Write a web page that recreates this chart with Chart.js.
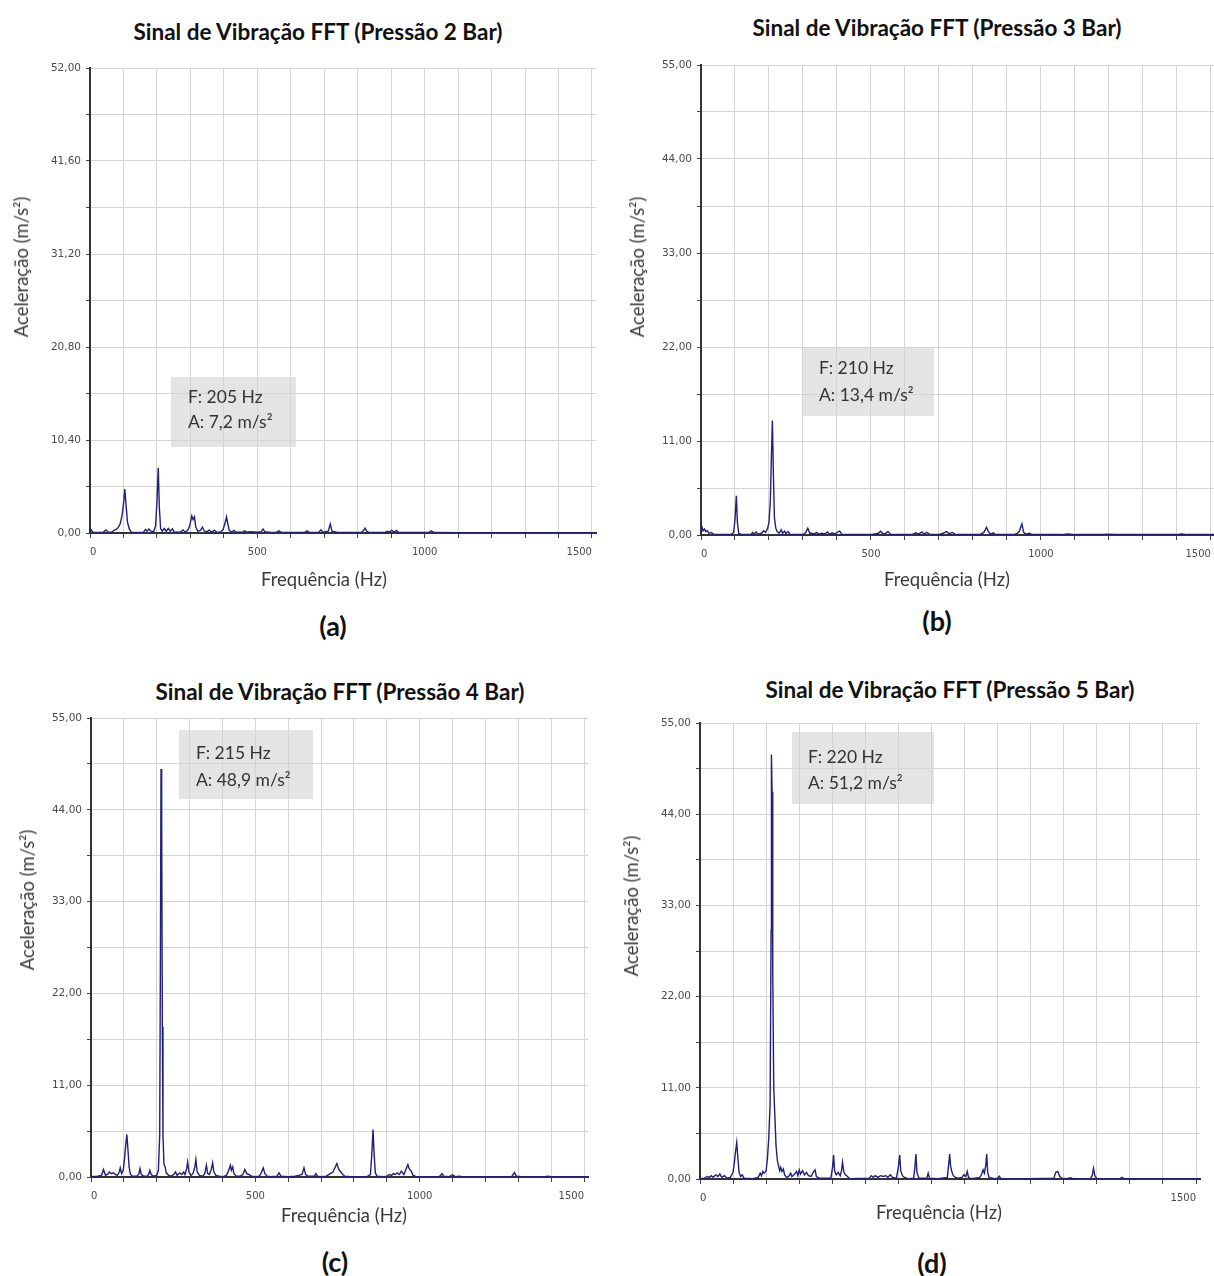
<!DOCTYPE html>
<html>
<head>
<meta charset="utf-8">
<script src="https://cdn.jsdelivr.net/npm/chart.js@4.4.1/dist/chart.umd.min.js"></script>
<style>
  html, body { margin:0; padding:0; background:#fff; overflow:hidden; }
  body { width:1214px; height:1276px; position:relative; }
  canvas { position:absolute; }
  .t { position:absolute; white-space:nowrap; transform:translate(-50%,-50%); }
  .title { font-family:'Lato', sans-serif; font-weight:bold; font-size:22.5px; color:#111; }
  .cap { font-family:'Lato', sans-serif; font-weight:bold; font-size:27px; color:#111; }
  .axt { font-family:'Lato', sans-serif; font-size:18.5px; color:#3a3a3a; }
  .yt { transform:translate(-50%,-50%) rotate(-90deg); }
  .box { position:absolute; background:#e4e4e4; }
  .note { position:absolute; font-family:'Lato', sans-serif; font-size:17.5px; color:#333; white-space:nowrap; transform:translateY(-50%); }
</style>
</head>
<body>
<script>
// ---------- data ----------
const FREQ_TICKS = [0,100,200,300,400,500,600,700,800,900,1000,1100,1200,1300,1400,1500];
const X_LABELS = ['0','','','','','500','','','','','1000','','','','','1500'];
const X_LABELS_D = ['0','','','','','','','','','','','','','','','1500'];
const Y_TICKS_2BAR = [0,5.2,10.4,15.6,20.8,26,31.2,36.4,41.6,46.8,52];
const Y_LABELS_2BAR = ['0,00','','10,40','','20,80','','31,20','','41,60','','52,00'];
const Y_TICKS_55 = [0,5.5,11,16.5,22,27.5,33,38.5,44,49.5,55];
const Y_LABELS_55 = ['0,00','','11,00','','22,00','','33,00','','44,00','','55,00'];

const TITLES = ['Sinal de Vibração FFT (Pressão 2 Bar)','Sinal de Vibração FFT (Pressão 3 Bar)','Sinal de Vibração FFT (Pressão 4 Bar)','Sinal de Vibração FFT (Pressão 5 Bar)'];
const CAPTIONS = ['(a)','(b)','(c)','(d)'];
const NOTE_F = ['F: 205 Hz','F: 210 Hz','F: 215 Hz','F: 220 Hz'];
const NOTE_A = ['A: 7,2 m/s²','A: 13,4 m/s²','A: 48,9 m/s²',' A: 51,2 m/s²'];
const X_TITLE = 'Frequência (Hz)';
const Y_TITLE = 'Aceleração (m/s²)';

// [frequency Hz, acceleration m/s²]
const series2Bar = [[0,0.1],[4,0.35],[8,0.1],[20,0.05],[40,0.1],[48,0.35],[54,0.1],[66,0.1],[72,0.3],[78,0.4],[84,0.6],[90,1.0],[96,2.0],[100,3.2],[104,4.9],[108,3.0],[112,1.2],[118,0.4],[124,0.1],[140,0.05],[160,0.1],[166,0.4],[170,0.2],[176,0.45],[182,0.2],[190,0.15],[196,0.8],[200,3.5],[204,7.3],[207,3.0],[211,0.5],[216,0.2],[222,0.5],[228,0.2],[234,0.5],[240,0.2],[246,0.45],[252,0.1],[270,0.1],[278,0.35],[284,0.1],[292,0.3],[298,0.8],[304,1.9],[308,1.5],[312,1.8],[316,0.7],[322,0.2],[330,0.3],[336,0.65],[342,0.2],[350,0.15],[356,0.35],[362,0.1],[372,0.3],[378,0.1],[390,0.1],[398,0.4],[404,1.2],[408,1.8],[412,1.0],[416,0.3],[424,0.1],[430,0.3],[436,0.1],[456,0.1],[462,0.25],[468,0.1],[480,0.15],[500,0.1],[512,0.15],[517,0.45],[522,0.15],[540,0.05],[558,0.1],[565,0.25],[572,0.05],[600,0.05],[640,0.05],[649,0.25],[656,0.05],[684,0.1],[690,0.35],[696,0.1],[712,0.2],[718,1.0],[723,0.2],[740,0.05],[812,0.1],[818,0.3],[822,0.55],[827,0.2],[834,0.05],[880,0.05],[888,0.2],[894,0.1],[902,0.3],[908,0.1],[916,0.3],[922,0.05],[1012,0.05],[1020,0.25],[1028,0.05],[1100,0.03],[1512,0.03]];

const series3Bar = [[0,0.3],[3,0.9],[6,0.5],[10,0.7],[14,0.4],[18,0.5],[24,0.2],[30,0.3],[36,0.1],[60,0.05],[90,0.1],[96,0.3],[100,1.8],[104,4.6],[107,1.5],[111,0.2],[120,0.05],[148,0.1],[152,0.3],[156,0.1],[162,0.35],[168,0.1],[178,0.2],[184,0.5],[190,0.3],[196,0.8],[200,1.5],[204,4.0],[207,9.0],[210,13.4],[213,7.0],[216,2.0],[220,0.8],[224,0.4],[230,0.2],[236,0.6],[240,0.2],[246,0.45],[250,0.15],[256,0.4],[262,0.1],[300,0.05],[308,0.3],[314,0.8],[320,0.2],[326,0.2],[334,0.1],[340,0.3],[346,0.1],[356,0.2],[364,0.1],[372,0.35],[378,0.1],[386,0.25],[394,0.1],[402,0.35],[408,0.45],[414,0.1],[440,0.05],[500,0.05],[522,0.2],[528,0.45],[534,0.2],[540,0.1],[550,0.4],[558,0.1],[568,0.05],[620,0.05],[632,0.25],[640,0.1],[650,0.35],[656,0.1],[664,0.3],[672,0.1],[700,0.05],[712,0.2],[722,0.4],[730,0.15],[740,0.3],[748,0.05],[820,0.05],[832,0.3],[840,0.9],[846,0.35],[852,0.1],[860,0.25],[866,0.05],[920,0.05],[930,0.2],[936,0.4],[944,1.3],[949,0.3],[956,0.1],[966,0.2],[974,0.05],[1060,0.05],[1080,0.12],[1100,0.05],[1180,0.05],[1200,0.1],[1220,0.05],[1400,0.05],[1414,0.12],[1430,0.05],[1512,0.05]];

const series4Bar = [[0,0.05],[20,0.1],[32,0.2],[38,0.9],[44,0.2],[50,0.3],[56,0.6],[62,0.4],[68,0.5],[74,0.3],[80,0.2],[86,0.6],[89,1.1],[93,0.4],[98,0.8],[102,2.2],[106,4.0],[109,5.1],[112,3.5],[116,1.2],[120,0.3],[126,0.1],[140,0.1],[146,0.4],[149,1.0],[153,0.3],[160,0.1],[172,0.1],[176,0.4],[179,0.8],[183,0.3],[190,0.1],[200,0.2],[205,0.8],[209,5.0],[211,25.0],[213,48.9],[215,43.0],[217,18.0],[219,5.0],[222,1.5],[225,1.3],[229,0.5],[236,0.2],[244,0.1],[252,0.3],[257,0.6],[262,0.2],[270,0.5],[276,0.3],[282,0.6],[286,0.3],[291,1.0],[294,1.8],[298,0.6],[304,0.2],[310,0.4],[316,1.2],[319,2.1],[323,0.6],[330,0.2],[340,0.1],[346,0.4],[351,1.4],[355,0.4],[360,0.3],[366,0.9],[370,1.7],[374,0.6],[380,0.2],[390,0.1],[402,0.05],[412,0.2],[418,0.7],[424,1.4],[427,0.8],[431,1.2],[435,0.4],[442,0.1],[454,0.1],[462,0.3],[468,0.9],[474,0.4],[480,0.3],[488,0.1],[500,0.05],[512,0.1],[518,0.5],[524,1.1],[529,0.4],[536,0.1],[548,0.05],[566,0.1],[572,0.5],[578,0.1],[600,0.05],[620,0.1],[632,0.2],[642,0.3],[648,1.1],[653,0.3],[660,0.1],[680,0.1],[684,0.4],[689,0.1],[700,0.05],[716,0.1],[728,0.4],[736,0.6],[742,1.1],[748,1.6],[754,0.9],[760,0.6],[766,0.3],[772,0.1],[790,0.05],[840,0.05],[850,0.3],[854,2.5],[858,5.7],[861,3.0],[865,0.5],[870,0.1],[890,0.05],[900,0.1],[908,0.3],[914,0.2],[920,0.4],[926,0.3],[932,0.5],[938,0.3],[944,0.7],[952,0.3],[958,0.9],[964,1.5],[968,1.0],[974,0.7],[980,0.2],[990,0.05],[1060,0.05],[1068,0.4],[1073,0.1],[1090,0.05],[1100,0.25],[1108,0.05],[1120,0.1],[1130,0.05],[1280,0.05],[1288,0.55],[1294,0.1],[1310,0.05],[1380,0.05],[1390,0.1],[1400,0.03],[1512,0.03]];

const series5Bar = [[0,0.05],[14,0.1],[22,0.3],[28,0.2],[34,0.4],[40,0.2],[48,0.5],[54,0.3],[60,0.6],[66,0.2],[74,0.4],[82,0.1],[92,0.2],[100,0.8],[104,2.0],[108,3.5],[111,4.4],[114,2.8],[118,0.8],[123,0.3],[128,0.5],[133,0.1],[160,0.05],[176,0.2],[182,0.7],[186,0.4],[190,0.9],[194,0.7],[200,1.0],[204,2.5],[208,5.0],[212,9.0],[215,30.0],[216,51.2],[218,46.7],[220,25.0],[223,11.0],[226,8.0],[230,4.0],[234,2.2],[238,1.5],[241,1.0],[244,1.4],[248,0.9],[252,1.2],[256,0.5],[262,0.2],[268,0.3],[274,0.7],[278,0.3],[284,0.5],[292,0.9],[296,0.4],[300,1.1],[304,0.6],[310,1.0],[316,0.5],[322,0.8],[328,0.4],[336,0.3],[342,0.8],[348,1.1],[352,0.3],[360,0.1],[396,0.1],[401,1.5],[404,2.9],[407,1.0],[412,0.5],[418,0.8],[424,0.4],[428,1.0],[431,2.0],[435,0.8],[440,0.5],[446,0.3],[452,0.05],[512,0.1],[518,0.4],[524,0.2],[530,0.4],[538,0.2],[546,0.4],[554,0.3],[562,0.4],[568,0.2],[576,0.5],[582,0.2],[594,0.1],[600,1.5],[604,2.9],[607,1.0],[612,0.4],[618,0.2],[630,0.05],[646,0.1],[650,1.5],[653,3.0],[656,0.8],[662,0.1],[686,0.1],[690,0.7],[694,0.1],[720,0.05],[748,0.2],[752,1.8],[755,3.0],[758,1.5],[762,0.8],[766,0.4],[772,0.2],[780,0.1],[792,0.2],[798,0.5],[804,0.3],[808,0.9],[812,0.2],[820,0.05],[846,0.2],[852,0.6],[856,1.1],[860,0.7],[864,1.6],[867,3.0],[870,0.8],[874,0.2],[890,0.05],[900,0.1],[905,0.35],[910,0.05],[1000,0.05],[1070,0.1],[1076,0.8],[1082,0.9],[1088,0.3],[1094,0.1],[1110,0.05],[1120,0.15],[1128,0.05],[1180,0.05],[1186,0.4],[1190,1.3],[1194,0.4],[1200,0.05],[1270,0.05],[1276,0.2],[1282,0.05],[1512,0.05]];

// ---------- layout (positions in page pixels) ----------
const Y_AXIS_W = 60, X_AXIS_H = 40, PAD_TOP = 12, PAD_RIGHT = 20, X_MAX = 1512;
const panels = [
  { series: series2Bar, yTicks: Y_TICKS_2BAR, yLabels: Y_LABELS_2BAR, xLabels: X_LABELS,
    plot: { left: 90, top: 68, width: 506, bottom: 533 },
    title: [318, 31], cap: [333, 625], xt: [324, 579], yt: [21, 267],
    box: [171, 377, 125, 70], nf: [188, 396], na: [188, 421] },
  { series: series3Bar, yTicks: Y_TICKS_55, yLabels: Y_LABELS_55, xLabels: X_LABELS,
    plot: { left: 701, top: 65, width: 514, bottom: 535 },
    title: [937, 27], cap: [937, 620], xt: [947, 579], yt: [637, 267],
    box: [802, 347, 132, 69], nf: [819, 367], na: [819, 394] },
  { series: series4Bar, yTicks: Y_TICKS_55, yLabels: Y_LABELS_55, xLabels: X_LABELS,
    plot: { left: 91, top: 718, width: 497, bottom: 1177 },
    title: [340, 691], cap: [335, 1261], xt: [344, 1215], yt: [27, 900],
    box: [179, 730, 134, 69], nf: [196, 752], na: [196, 779] },
  { series: series5Bar, yTicks: Y_TICKS_55, yLabels: Y_LABELS_55, xLabels: X_LABELS_D,
    plot: { left: 700, top: 723, width: 500, bottom: 1179 },
    title: [950, 689], cap: [932, 1262], xt: [939, 1212], yt: [631, 906],
    box: [792, 732, 142, 72], nf: [808, 756], na: [808, 782] }
];

function addText(cls, txt, x, y) {
  const d = document.createElement('div');
  d.className = cls; d.textContent = txt;
  d.style.left = x + 'px'; d.style.top = y + 'px';
  document.body.appendChild(d);
  return d;
}

panels.forEach((p, i) => {
  const b = document.createElement('div');
  b.className = 'box';
  b.style.left = p.box[0] + 'px'; b.style.top = p.box[1] + 'px';
  b.style.width = p.box[2] + 'px'; b.style.height = p.box[3] + 'px';
  document.body.appendChild(b);

  const cv = document.createElement('canvas');
  const ph = p.plot.bottom - p.plot.top;
  const cw = Y_AXIS_W + p.plot.width + PAD_RIGHT;
  const ch = PAD_TOP + ph + X_AXIS_H;
  cv.width = cw; cv.height = ch;
  cv.style.width = cw + 'px'; cv.style.height = ch + 'px';
  cv.style.left = (p.plot.left - Y_AXIS_W) + 'px';
  cv.style.top = (p.plot.top - PAD_TOP) + 'px';
  document.body.appendChild(cv);

  new Chart(cv.getContext('2d'), {
    type: 'line',
    data: { datasets: [{
      data: p.series.map(([f, a]) => ({ x: f, y: a })),
      borderColor: '#1f1f7c', borderWidth: 1.4, pointRadius: 0, tension: 0, fill: false
    }]},
    options: {
      responsive: false, animation: false, devicePixelRatio: 1,
      layout: { padding: { top: PAD_TOP, right: PAD_RIGHT, left: 0, bottom: 0 } },
      plugins: { legend: { display: false }, tooltip: { enabled: false } },
      scales: {
        x: {
          type: 'linear', min: 0, max: X_MAX,
          afterBuildTicks: s => { s.ticks = FREQ_TICKS.map(v => ({ value: v })); },
          afterFit: s => { s.height = X_AXIS_H; },
          grid: { color: '#d4d4d4', lineWidth: 1, tickLength: 5, tickColor: '#444' },
          border: { color: '#333', width: 2 },
          ticks: { autoSkip: false, maxRotation: 0, padding: 8, color: '#4a4a4a', align: 'inner',
                   font: { family: 'DejaVu Sans', size: 10 },
                   callback: (v, idx) => p.xLabels[idx] }
        },
        y: {
          type: 'linear', min: 0, max: p.yTicks[p.yTicks.length - 1],
          afterBuildTicks: s => { s.ticks = p.yTicks.map(v => ({ value: v })); },
          afterFit: s => { s.width = Y_AXIS_W; },
          grid: { color: '#d4d4d4', lineWidth: 1, tickLength: 4, tickColor: '#444' },
          border: { color: '#333', width: 2 },
          ticks: { autoSkip: false, padding: 5, color: '#4a4a4a',
                   font: { family: 'DejaVu Sans', size: 10.5 },
                   callback: (v, idx) => p.yLabels[idx] }
        }
      }
    }
  });

  addText('t title', TITLES[i], p.title[0], p.title[1]);
  addText('t cap', CAPTIONS[i], p.cap[0], p.cap[1]);
  addText('t axt', X_TITLE, p.xt[0], p.xt[1]);
  addText('t axt yt', Y_TITLE, p.yt[0], p.yt[1]);
  addText('note', NOTE_F[i], p.nf[0], p.nf[1]);
  addText('note', NOTE_A[i], p.na[0], p.na[1]);
});
</script>
</body>
</html>
